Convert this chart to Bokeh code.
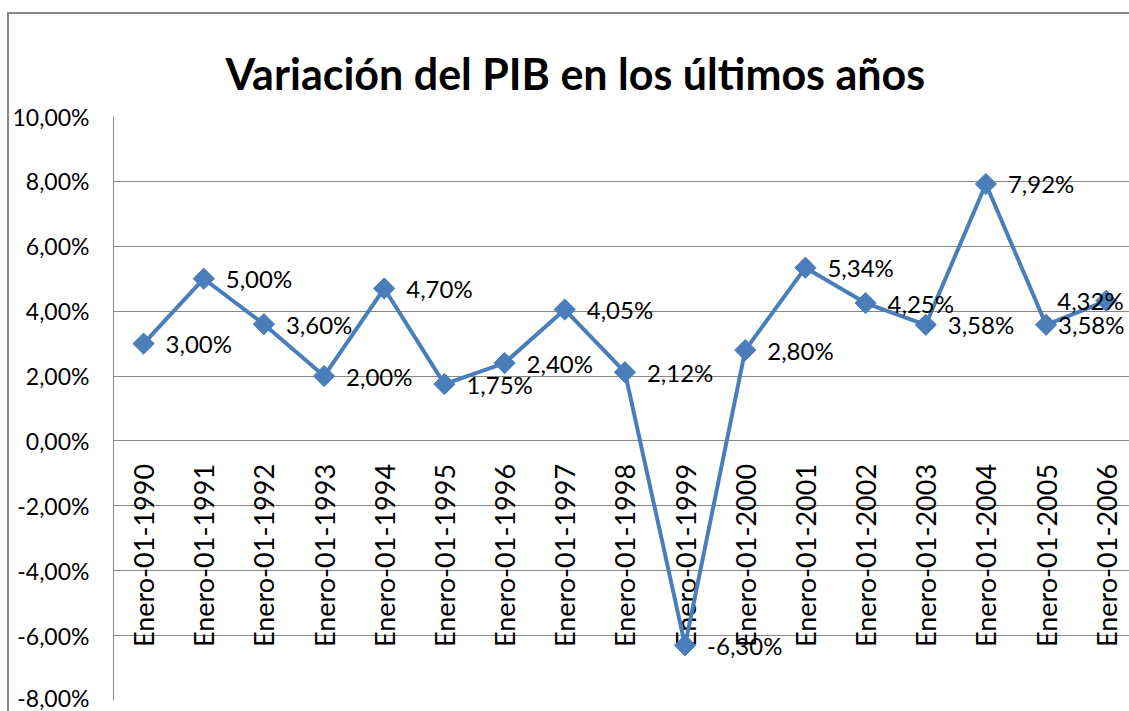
from bokeh.plotting import figure
from bokeh.models import ColumnDataSource, FixedTicker, Range1d, CustomJSTickFormatter
from bokeh.core.properties import value
from bokeh.embed import file_html
from bokeh.resources import INLINE

title_text = "Variación del PIB en los últimos años"
categories = ["Enero-01-1990", "Enero-01-1991", "Enero-01-1992", "Enero-01-1993",
              "Enero-01-1994", "Enero-01-1995", "Enero-01-1996", "Enero-01-1997",
              "Enero-01-1998", "Enero-01-1999", "Enero-01-2000", "Enero-01-2001",
              "Enero-01-2002", "Enero-01-2003", "Enero-01-2004", "Enero-01-2005",
              "Enero-01-2006"]
values = [3.00, 5.00, 3.60, 2.00, 4.70, 1.75, 2.40, 4.05, 2.12, -6.30,
          2.80, 5.34, 4.25, 3.58, 7.92, 3.58, 4.32]
y_ticks = [-8, -6, -4, -2, 0, 2, 4, 6, 8, 10]

FONT = "Lato"
BLUE = "#4A7EBB"
GRAY = "#868686"

xs = list(range(len(categories)))
labels = [("%.2f" % v).replace(".", ",") + "%" for v in values]
label_dx = [22] * (len(values) - 2) + [12, -49]

src = ColumnDataSource(dict(x=xs, y=values, lab=labels, dx=label_dx,
                            cat=categories, zero=[0] * len(xs)))

p = figure(width=1120, height=697,
           x_range=Range1d(-0.5, 16.42), y_range=Range1d(-8, 10),
           output_backend="svg", toolbar_location=None, x_axis_type=None,
           min_border_left=104, min_border_top=102, min_border_bottom=13,
           min_border_right=0)
p.styles = {"box-sizing": "content-box",
            "border-left": "2px solid #868686", "border-top": "2px solid #868686",
            "margin-top": "12px", "margin-left": "7px"}
p.outline_line_color = None
p.background_fill_color = "white"
p.border_fill_color = "white"

p.xgrid.visible = False
p.ygrid.grid_line_color = GRAY
p.ygrid.grid_line_width = 1
p.ygrid.ticker = FixedTicker(ticks=y_ticks)

ax = p.yaxis[0]
ax.ticker = FixedTicker(ticks=y_ticks)
ax.formatter = CustomJSTickFormatter(code="return tick.toFixed(2).replace('.', ',') + '%';")
ax.axis_line_color = GRAY
ax.major_tick_line_color = None
ax.minor_tick_line_color = None
ax.major_tick_out = 0
ax.major_label_standoff = 24
ax.major_label_text_font = FONT
ax.major_label_text_font_size = "23px"
ax.major_label_text_color = "#000000"

p.title.text = title_text
p.title.align = "left"
p.title.offset = 112
p.title.text_font = FONT
p.title.text_font_style = "bold"
p.title.text_font_size = "43px"
p.title.text_color = "#000000"
p.title.standoff = 36

# category labels along the zero line, rotated
p.text(x="x", y="zero", text="cat", source=src, angle=1.5707963,
       text_align="right", text_baseline="middle", y_offset=23,
       text_font=value(FONT), text_font_size="27px", text_color="#000000")

p.line(x="x", y="y", source=src, line_color=BLUE, line_width=4)
p.scatter(x="x", y="y", source=src, marker="square", size=15, angle=0.785398,
          fill_color=BLUE, line_color=BLUE)

p.text(x="x", y="y", text="lab", source=src, x_offset="dx", text_align="left",
       text_baseline="middle", text_font=value(FONT), text_font_size="24px",
       text_color="#000000")

open("out.html", "w").write(file_html(p, INLINE))
